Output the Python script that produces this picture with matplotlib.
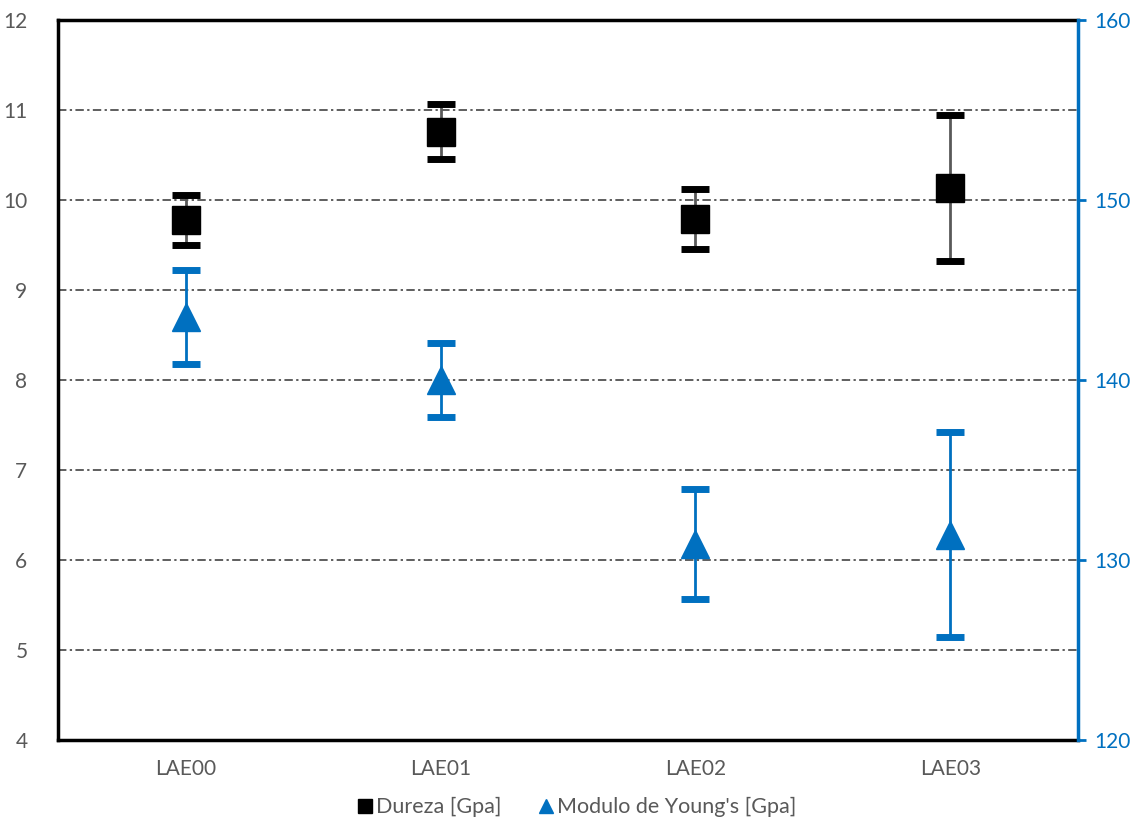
import numpy as np
import matplotlib
matplotlib.use("Agg")
import matplotlib.pyplot as plt
from matplotlib.lines import Line2D

plt.rcParams['font.family'] = ['Lato', 'DejaVu Sans']

muestras = ["LAE00", "LAE01", "LAE02", "LAE03"]
dureza = [9.78, 10.76, 9.79, 10.13]
dureza_err = [0.28, 0.31, 0.33, 0.81]
young = [143.5, 140.0, 130.9, 131.4]
young_err = [2.6, 2.05, 3.05, 5.7]

gris = '#595959'
azul = '#0070C0'

fig = plt.figure(figsize=(11.47, 8.23), dpi=100)
ax = fig.add_axes([0.0506, 0.1009, 0.8892, 0.8748])
ax2 = ax.twinx()

x = np.arange(len(muestras))

# dureza (eje izquierdo)
pl, caps, bars = ax.errorbar(x, dureza, yerr=dureza_err, fmt='s', ms=20,
                             color='black', ecolor=gris, elinewidth=2,
                             capsize=10, capthick=5, zorder=3)
for c in caps:
    c.set_markeredgecolor('black')
    c.set_markerfacecolor('black')

# modulo de Young (eje derecho)
ax2.errorbar(x, young, yerr=young_err, fmt='^', ms=20, color=azul,
             ecolor=azul, elinewidth=2, capsize=10, capthick=5, zorder=3)

ax.set_xlim(-0.5, 3.5)
ax.set_ylim(4, 12)
ax2.set_ylim(120, 160)
ax.set_xticks(x)
ax.set_xticklabels(muestras)
ax.set_yticks(np.arange(4, 13, 1))
ax2.set_yticks(np.arange(120, 161, 10))

for yv in range(5, 12):
    ax.axhline(yv, color='#333333', lw=1.1,
               linestyle=(0, (5.5, 2.2, 1.5, 2.2)), zorder=1)

ax.tick_params(axis='y', length=0, labelsize=15, labelcolor=gris, pad=22)
ax.tick_params(axis='x', length=0, labelsize=15, labelcolor=gris, pad=14)
ax2.tick_params(axis='y', length=6, width=2, color=azul, labelsize=15,
                labelcolor=azul, pad=6)

for s in ['left', 'top', 'bottom']:
    ax.spines[s].set_linewidth(2.5)
    ax.spines[s].set_color('black')
ax.spines['right'].set_visible(False)
for s in ['left', 'top', 'bottom']:
    ax2.spines[s].set_visible(False)
ax2.spines['right'].set_linewidth(2.5)
ax2.spines['right'].set_color(azul)

handles = [Line2D([], [], marker='s', color='black', ls='none', ms=10),
           Line2D([], [], marker='^', color=azul, ls='none', ms=10)]
fig.legend(handles, ["Dureza [Gpa]", "Modulo de Young's [Gpa]"],
           loc='center', bbox_to_anchor=(0.502, 0.019), ncol=2,
           frameon=False, fontsize=15.5, handletextpad=0.05,
           columnspacing=1.6, labelcolor=gris, handlelength=0.9)

fig.savefig("out.png", dpi=100)
